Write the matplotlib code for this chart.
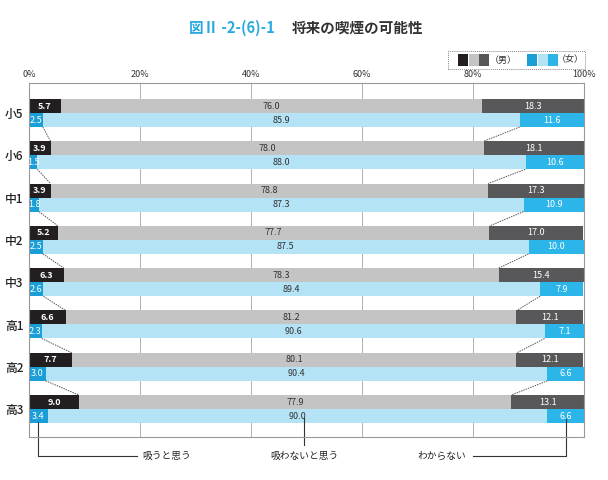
import matplotlib.pyplot as plt
from matplotlib.patches import Rectangle
import numpy as np

plt.rcParams['font.family'] = ['Noto Sans CJK JP', 'DejaVu Sans']

# データ
grades = ['小5', '小6', '中1', '中2', '中3', '高1', '高2', '高3']
male_smoke = [5.7, 3.9, 3.9, 5.2, 6.3, 6.6, 7.7, 9.0]
male_no = [76.0, 78.0, 78.8, 77.7, 78.3, 81.2, 80.1, 77.9]
male_unknown = [18.3, 18.1, 17.3, 17.0, 15.4, 12.1, 12.1, 13.1]
female_smoke = [2.5, 1.5, 1.8, 2.5, 2.6, 2.3, 3.0, 3.4]
female_no = [85.9, 88.0, 87.3, 87.5, 89.4, 90.6, 90.4, 90.0]
female_unknown = [11.6, 10.6, 10.9, 10.0, 7.9, 7.1, 6.6, 6.6]
xticks = [0, 20, 40, 60, 80, 100]

male_colors = ['#231f20', '#c4c4c4', '#58585a']
female_colors = ['#1a9ed8', '#b5e3f6', '#2bb5e8']
male_text = ['white', '#333333', 'white']
female_text = ['white', '#333333', 'white']

fig = plt.figure(figsize=(6.08, 4.8), dpi=100)
ax = fig.add_axes([29 / 608, 43 / 480, 555 / 608, 354 / 480])

y = np.arange(len(grades))
h = 0.331
ym = y - h / 2
yf = y + h / 2


def stacked(ypos, series, colors, tcolors, weights):
    left = np.zeros(len(ypos))
    for vals, c, tc, w in zip(series, colors, tcolors, weights):
        vals = np.array(vals)
        ax.barh(ypos, vals, left=left, height=h, color=c, zorder=2, linewidth=0)
        for yy, l, v in zip(ypos, left, vals):
            ax.text(l + v / 2, yy, f'{v:.1f}', ha='center', va='center',
                    fontsize=6.5, color=tc, fontweight=w, zorder=3)
        left = left + vals


stacked(ym, [male_smoke, male_no, male_unknown], male_colors, male_text,
        ['bold', 'normal', 'normal'])
stacked(yf, [female_smoke, female_no, female_unknown], female_colors, female_text,
        ['normal', 'normal', 'normal'])

# 点線のつなぎ
for i in range(len(grades) - 1):
    ax.plot([female_smoke[i], male_smoke[i + 1]], [yf[i] + h / 2, ym[i + 1] - h / 2],
            ls=(0, (1.5, 1)), color='#555555', lw=0.7, zorder=3)
    ax.plot([100 - female_unknown[i], 100 - male_unknown[i + 1]],
            [yf[i] + h / 2, ym[i + 1] - h / 2],
            ls=(0, (1.5, 1)), color='#555555', lw=0.7, zorder=3)

ax.set_xlim(0, 100)
ax.set_ylim(7.66, -0.71)
ax.set_yticks(y)
ax.set_yticklabels(grades, fontsize=8.5, color='#222222', fontweight='medium')
ax.xaxis.tick_top()
ax.set_xticks(xticks)
ax.set_xticklabels([f'{t}%' for t in xticks], fontsize=6.5, color='#333333')
ax.tick_params(length=0, pad=3)
ax.tick_params(axis='y', pad=4)
ax.grid(axis='x', color='#b0b0b0', lw=0.7, zorder=0)
for s in ax.spines.values():
    s.set_color('#999999')
    s.set_linewidth(0.8)

# 下の注釈
last = len(grades) - 1
yb = 8.11
xl = female_smoke[last] / 2
ax.plot([xl, xl, 19.4], [7.31, yb, yb], color='#333333', lw=0.8, clip_on=False)
ax.text(20.5, yb, '吸うと思う', fontsize=7, va='center', ha='left', color='#222222')
xm = female_smoke[last] + female_no[last] / 2 + 1.2
ax.plot([xm, xm], [7.2, 7.85], color='#333333', lw=0.8, clip_on=False)
ax.text(xm, yb, '吸わないと思う', fontsize=7, va='center', ha='center', color='#222222')
xr = 100 - female_unknown[last] / 2
ax.plot([80, xr, xr], [yb, yb, 7.24], color='#333333', lw=0.8, clip_on=False)
ax.text(78.8, yb, 'わからない', fontsize=7, va='center', ha='right', color='#222222')

# タイトル
fig.text(189 / 608, 1 - 28 / 480, '図Ⅱ -2-(6)-1', fontsize=10.5, fontweight='bold',
         color='#29a9e0', va='center', ha='left')
fig.text(292 / 608, 1 - 28 / 480, '将来の喫煙の可能性', fontsize=10.5, fontweight='bold',
         color='#333333', va='center', ha='left')

# 凡例
fig.patches.append(Rectangle((448 / 608, 1 - 69 / 480), 137 / 608, 18 / 480,
                             transform=fig.transFigure, fill=False,
                             edgecolor='#888888', lw=0.7, ls=(0, (1, 1))))
sq_w, sq_h = 10 / 608, 12 / 480
sq_y = 1 - 66 / 480
for j, c in enumerate(male_colors):
    fig.patches.append(Rectangle(((458 + 10.5 * j) / 608, sq_y), sq_w, sq_h,
                                 transform=fig.transFigure, color=c, lw=0))
fig.text(490 / 608, 1 - 60 / 480, '（男）', fontsize=6.5, va='center', ha='left', color='#333333')
for j, c in enumerate(female_colors):
    fig.patches.append(Rectangle(((527 + 10.5 * j) / 608, sq_y), sq_w, sq_h,
                                 transform=fig.transFigure, color=c, lw=0))
fig.text(557 / 608, 1 - 60 / 480, '（女）', fontsize=6.5, va='center', ha='left', color='#333333')

plt.savefig('out.png', dpi=100)
